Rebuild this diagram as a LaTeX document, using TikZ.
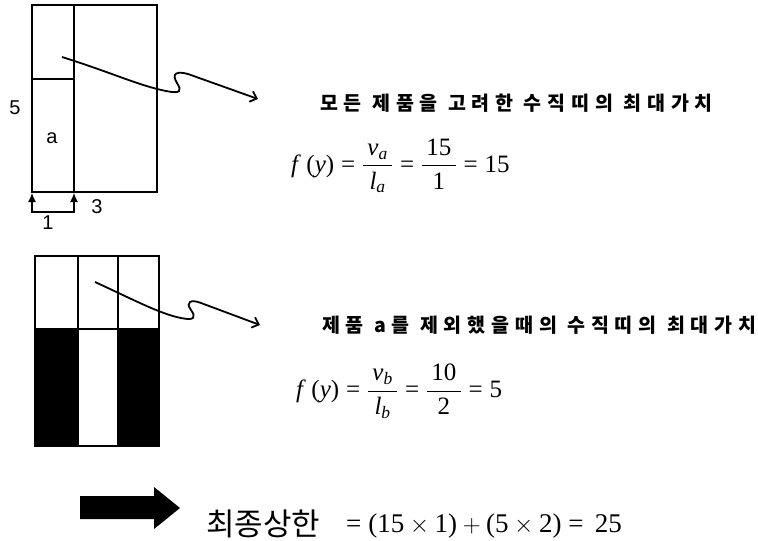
\documentclass[tikz,border=0pt]{standalone}
\usepackage{amsmath}
\usepackage{fontspec}
\setmainfont{Liberation Serif}
\newfontfamily\krb[LetterSpace=30]{Noto Sans CJK KR}
\newfontfamily\kr{Noto Sans CJK KR}
\newfontfamily\labfont{Liberation Sans}
\usetikzlibrary{arrows.meta}
\newcommand\eqs{\mathrel{\textup{=}}}
\newcommand\tu[1]{\textup{#1}}
\tikzset{
  outer/.style={line width=2.2pt},
  inner/.style={line width=1.4pt},
  wavy/.style={line width=1.8pt,-{Straight Barb[length=6pt,width=11pt,line width=1.8pt]}},
  lab/.style={font=\labfont\fontsize{20}{23}\selectfont,inner sep=0pt},
  title/.style={font=\krb\bfseries\fontsize{19.5}{22}\selectfont,anchor=west,inner sep=0pt},
  formula/.style={font=\fontsize{25}{29}\selectfont,anchor=west,inner sep=0pt},
}
\begin{document}
\begin{tikzpicture}[x=1pt,y=-1pt]
\useasboundingbox (0,0) rectangle (758,541);
% top figure
\draw[inner] (74,5) -- (74,192);
\draw[inner] (32,79) -- (74,79);
\draw[outer] (32,5) rectangle (157,192);
\node[lab] (n5) at (15,108) {5};
\node[lab] (na) at (52,138) {a};
\node[lab] (n3) at (97,207) {3};
\node[lab] (n1) at (48,223) {1};
\coordinate (b1) at (32,193);
\coordinate (b2) at (74,193);
\draw[line width=1.2pt,{Latex[length=9pt,width=8pt]}-{Latex[length=9pt,width=8pt]}] (b1) -- ++(0,19) -| (b2);
% wavy arrow 1
\coordinate (s1) at (62,57);
\coordinate (e1) at (258,99);
\draw[wavy] (s1) .. controls (110,72) and (140,86) .. (166,91) .. controls (181,94) and (182,91) .. (177,83) .. controls (171,73) and (177,71) .. (188,74) -- (e1);
% bottom figure
\fill[black] (35,329) rectangle (78,446);
\fill[black] (118,329) rectangle (159,446);
\draw[inner] (78,256) -- (78,446);
\draw[inner] (118,256) -- (118,446);
\draw[inner] (35,329) -- (159,329);
\draw[outer] (35,256) rectangle (159,446);
% wavy arrow 2
\coordinate (s2) at (95,282);
\coordinate (e2) at (260,325);
\draw[wavy] (s2) .. controls (130,298) and (160,314) .. (181,318) .. controls (195,321) and (196,317) .. (191,310) .. controls (185,302) and (191,299) .. (201,303) -- (e2);
% big arrow
\fill[black] (80,496) -- (154,496) -- (154,487) -- (180,508) -- (154,529) -- (154,519) -- (80,519) -- cycle;
% texts
\node[title] (t1) at (320,103) {모든 제품을 고려한 수직띠의 최대가치};
\node[formula] (f1) at (291,166) {$\textit{f}\,\,\tu{(}\textit{y}\tu{)} \eqs \dfrac{\,\textit{v}_{\textit{a}}\,}{\,\textit{l}_{\textit{a}}\,} \eqs \dfrac{\,\tu{15}\,}{\tu{1}} \eqs \tu{15}$};
\node[title] (t2) at (322,325) {제품 a를 제외했을때의 수직띠의 최대가치};
\node[formula] (f2) at (296,391) {$\textit{f}\,\,\tu{(}\textit{y}\tu{)} \eqs \dfrac{\,\textit{v}_{\textit{b}}\,}{\,\textit{l}_{\textit{b}}\,} \eqs \dfrac{\,\tu{10}\,}{\tu{2}} \eqs \tu{5}$};
\node[anchor=west,inner sep=0pt,font=\kr\fontsize{31}{34}\selectfont] (t3) at (206,524) {최종상한};
\node[anchor=west,inner sep=0pt,font=\fontsize{27}{31}\selectfont] (f3) at (346,526) {$\eqs \tu{(15} \times \tu{1)} + \tu{(5} \times \tu{2)} \eqs\, \tu{25}$};
\end{tikzpicture}
\end{document}
